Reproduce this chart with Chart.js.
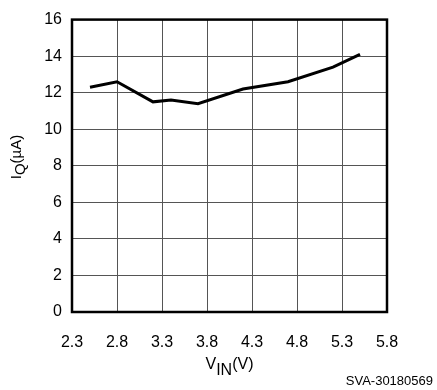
<!DOCTYPE html>
<html>
<head>
<meta charset="utf-8">
<script src="https://cdn.jsdelivr.net/npm/chart.js@4"></script>
<style>
  html, body { margin: 0; padding: 0; background: #fff; }
  #wrap { width: 437px; height: 390px; }
</style>
</head>
<body>
<div id="wrap"><canvas id="iqchart" width="437" height="390"></canvas></div>
<script>
// supply voltage (V) and quiescent current (uA)
var vin = [2.5, 2.8, 3.2, 3.4, 3.7, 4.2, 4.7, 5.2, 5.5];
var iq = [12.3, 12.6, 11.5, 11.6, 11.4, 12.2, 12.6, 13.4, 14.1];
var xTicks = [2.3, 2.8, 3.3, 3.8, 4.3, 4.8, 5.3, 5.8];
var yTicks = [0, 2, 4, 6, 8, 10, 12, 14, 16];

const FONT = 'Liberation Sans, Arial, Helvetica, sans-serif';

var decor = {
  id: 'decor',
  afterDraw: function(chart) {
    var ctx = chart.ctx, a = chart.chartArea;
    ctx.save();
    // black frame
    ctx.strokeStyle = '#000';
    ctx.lineWidth = 2.5;
    ctx.strokeRect(a.left, a.top, a.right - a.left, a.bottom - a.top);

    ctx.fillStyle = '#000';
    ctx.textBaseline = 'alphabetic';
    // x title: V with IN subscript
    var cx = (a.left + a.right) / 2;
    ctx.font = '16px ' + FONT;
    var w1 = ctx.measureText('V').width;
    var w2 = ctx.measureText('IN').width;
    var w3 = ctx.measureText('(V)').width;
    var x0 = cx - (w1 + w2 + w3) / 2;
    ctx.fillText('V', x0, 369);
    ctx.fillText('IN', x0 + w1, 375);
    ctx.fillText('(V)', x0 + w1 + w2, 369);

    // y title: I with Q subscript, rotated
    ctx.font = '15px ' + FONT;
    ctx.translate(21, 157);
    ctx.rotate(-Math.PI / 2);
    var v1 = ctx.measureText('I').width;
    var v2 = ctx.measureText('Q').width;
    var v3 = ctx.measureText('(\u00b5A)').width;
    var y0 = -(v1 + v2 + v3) / 2;
    ctx.fillText('I', y0, 0);
    ctx.fillText('Q', y0 + v1, 4);
    ctx.fillText('(\u00b5A)', y0 + v1 + v2, 0);
    ctx.restore();

    // figure code
    ctx.save();
    ctx.font = '13px ' + FONT;
    ctx.textAlign = 'right';
    ctx.fillStyle = '#000';
    ctx.fillText('SVA-30180569', 433, 385);
    ctx.restore();
  }
};

new Chart(document.getElementById('iqchart'), {
  type: 'scatter',
  data: {
    datasets: [{
      data: vin.map(function(v, i) { return { x: v, y: iq[i] }; }),
      showLine: true,
      borderColor: '#000',
      borderWidth: 3,
      pointRadius: 0,
      tension: 0,
      fill: false
    }]
  },
  options: {
    responsive: false,
    animation: false,
    events: [],
    layout: { padding: { top: 12, right: 50, bottom: 0, left: 0 } },
    plugins: { legend: { display: false }, tooltip: { enabled: false } },
    scales: {
      x: {
        type: 'linear',
        min: 2.3, max: 5.8,
        afterFit: function(s) { s.height = 78; },
        afterBuildTicks: function(s) { s.ticks = xTicks.map(function(v) { return { value: v }; }); },
        grid: { color: '#555', lineWidth: 1, drawTicks: false },
        border: { display: false },
        ticks: { padding: 21, color: '#000', font: { family: FONT, size: 16 },
          callback: function(v) { return v.toFixed(1); } }
      },
      y: {
        min: 0, max: 16,
        afterFit: function(s) { s.width = 72; },
        afterBuildTicks: function(s) { s.ticks = yTicks.map(function(v) { return { value: v }; }); },
        grid: { color: '#555', lineWidth: 1, drawTicks: false },
        border: { display: false },
        ticks: { padding: 10, color: '#000', font: { family: FONT, size: 16 } }
      }
    }
  },
  plugins: [decor]
});
</script>
</body>
</html>
